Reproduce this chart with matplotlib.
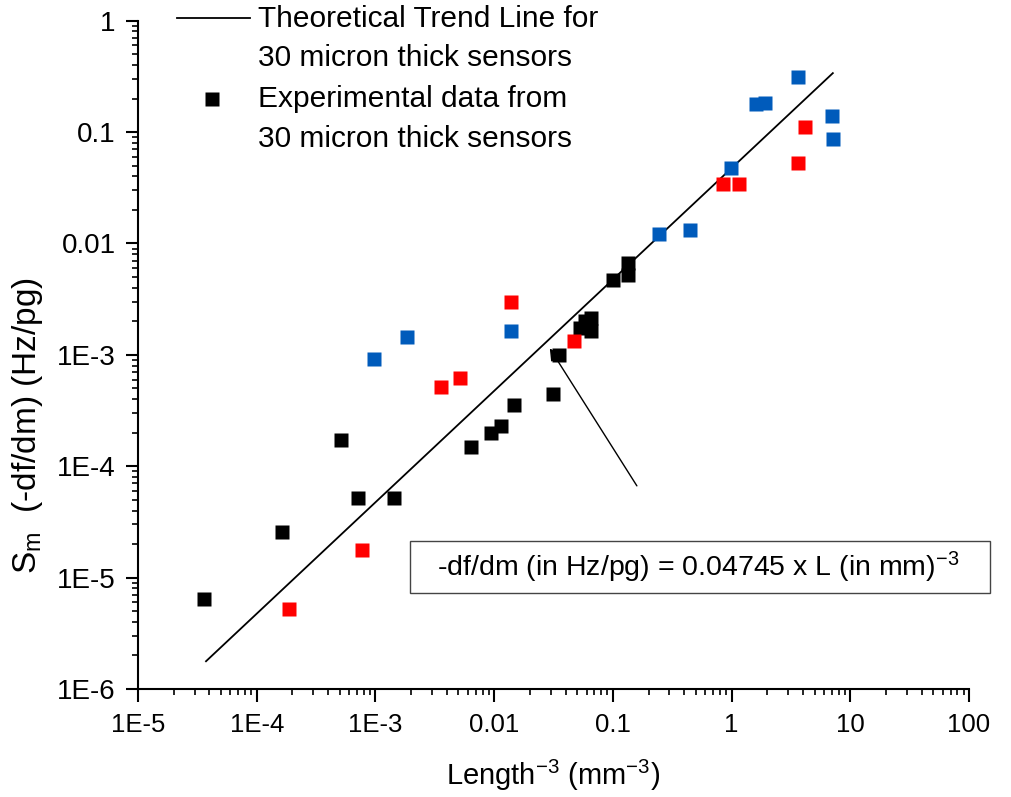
import numpy as np
import matplotlib
matplotlib.use('Agg')
import matplotlib.pyplot as plt
from matplotlib.lines import Line2D
from matplotlib.patches import Rectangle

plt.rcParams['font.family'] = ['Liberation Sans', 'DejaVu Sans']
plt.rcParams['mathtext.default'] = 'regular'

# black: 30 micron thick sensors
black_x = [3.6e-5, 1.63e-4, 5.13e-4, 7.1e-4, 1.44e-3, 6.35e-3, 9.4e-3, 0.01138, 0.0148,
           0.0316, 0.0354, 0.053, 0.058, 0.065, 0.065, 0.101, 0.135, 0.135]
black_y = [6.4e-6, 2.59e-5, 1.72e-4, 5.16e-5, 5.2e-5, 1.48e-4, 1.98e-4, 2.31e-4, 3.53e-4,
           4.46e-4, 1.0e-3, 1.75e-3, 2.0e-3, 2.13e-3, 1.65e-3, 4.7e-3, 6.64e-3, 5.21e-3]
red_x = [1.88e-4, 7.7e-4, 3.57e-3, 5.16e-3, 0.0139, 0.0474, 0.853, 1.15, 3.61, 4.16]
red_y = [5.2e-6, 1.77e-5, 5.18e-4, 6.24e-4, 2.98e-3, 1.34e-3, 0.0342, 0.0342, 0.0531, 0.112]
blue_x = [9.7e-4, 1.84e-3, 0.0139, 0.247, 0.447, 0.984, 1.61, 1.92, 3.61, 7.03, 7.1]
blue_y = [9.24e-4, 1.46e-3, 1.65e-3, 0.0121, 0.0133, 0.0476, 0.179, 0.181, 0.310, 0.139, 0.0861]

slope = 0.04745
trend_x = np.array([3.74e-5, 7.13])

xticks = [1e-5, 1e-4, 1e-3, 0.01, 0.1, 1, 10, 100]
xlabels = ['1E-5', '1E-4', '1E-3', '0.01', '0.1', '1', '10', '100']
yticks = [1e-6, 1e-5, 1e-4, 1e-3, 0.01, 0.1, 1]
ylabels = ['1E-6', '1E-5', '1E-4', '1E-3', '0.01', '0.1', '1']

W, H = 1011, 797
fig = plt.figure(figsize=(W/100, H/100), dpi=100)
ax = fig.add_axes([138/W, 1-689/H, (969-138)/W, (689-20.7)/H])

ax.plot(trend_x, slope*trend_x, color='black', lw=1.3)
ax.plot(black_x, black_y, 's', color='black', ms=10, mec='none')
ax.plot(red_x, red_y, 's', color='#ff0000', ms=10, mec='none')
ax.plot(blue_x, blue_y, 's', color='#005bbb', ms=10, mec='none')

ax.set_xscale('log')
ax.set_yscale('log')
ax.set_xlim(1e-5, 100)
ax.set_ylim(1e-6, 1)
ax.set_xticks(xticks)
ax.set_xticklabels(xlabels, fontsize=18.5)
ax.set_yticks(yticks)
ax.set_yticklabels(ylabels, fontsize=20)
ax.tick_params(which='major', direction='out', length=9, width=1.5)
ax.tick_params(axis='x', which='major', pad=8)
ax.tick_params(axis='y', which='major', pad=7)
ax.tick_params(which='minor', direction='out', length=4.5, width=1.2)
ax.spines['top'].set_visible(False)
ax.spines['right'].set_visible(False)
ax.spines['left'].set_linewidth(1.5)
ax.spines['bottom'].set_linewidth(1.5)

ax.set_xlabel('Length$^{-3}$ (mm$^{-3}$)', fontsize=21)
ax.xaxis.set_label_coords(0.499, -0.103)
ax.set_ylabel('S$_{m}$  (-df/dm) (Hz/pg)', fontsize=24)
ax.yaxis.set_label_coords(-0.112, 0.395)

ax.annotate('', xy=(0.0286, 1.2e-3), xytext=(0.164, 6.35e-5),
            arrowprops=dict(arrowstyle='-|>', color='black', lw=1, mutation_scale=18))

fig.patches.append(Rectangle((410/W, 1-593/H), 580/W, 52/H,
                             transform=fig.transFigure, fill=False, ec='#444444', lw=1))
fig.text(437/W, 1-567/H, '-df/dm (in Hz/pg) = 0.04745 x L (in mm)$^{-3}$',
         fontsize=20.5, va='center', ha='left')

# legend drawn by hand to keep the Origin-style layout
fig.add_artist(Line2D([177/W, 250/W], [1-18/H, 1-18/H], color='black', lw=1.3,
                      transform=fig.transFigure))
fig.add_artist(Line2D([212/W], [1-99/H], marker='s', color='black', ms=10, mec='none',
                      ls='none', transform=fig.transFigure))
leg_rows = ['Theoretical Trend Line for', '30 micron thick sensors',
            'Experimental data from', '30 micron thick sensors']
leg_y = [19, 58, 99, 139]
for txt, yy in zip(leg_rows, leg_y):
    fig.text(258/W, 1-yy/H, txt, fontsize=21.5, va='center', ha='left')

fig.savefig('out.png', dpi=100)
